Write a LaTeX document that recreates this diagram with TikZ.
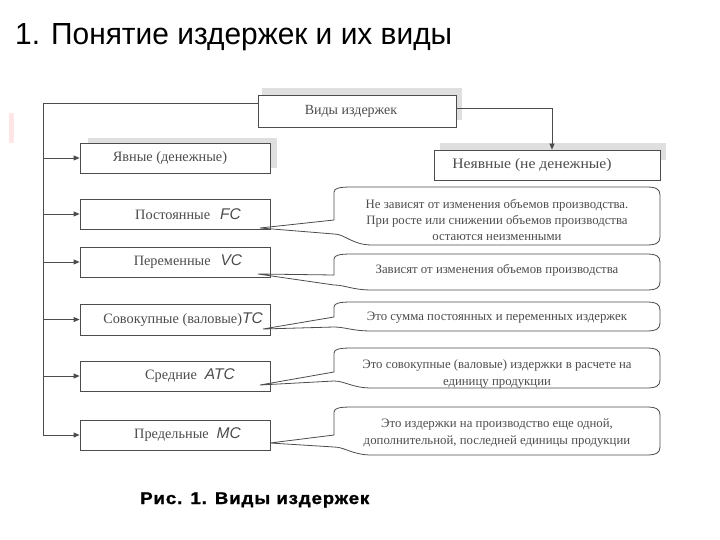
\documentclass[tikz,border=0pt]{standalone}
\usepackage{fontspec}
\setmainfont{Liberation Serif}
\newfontfamily\narrowsans[FakeStretch=0.98]{Liberation Sans}
\newfontfamily\capsans{Liberation Sans}
\newfontfamily\capbold[FakeStretch=1.1,LetterSpace=5,FakeBold=1.2]{Liberation Sans Bold}
\newfontfamily\widerserif[FakeStretch=1.08]{Liberation Serif}
\usetikzlibrary{arrows.meta,calc}
\definecolor{ln}{gray}{0.3}
\definecolor{tx}{gray}{0.3}
\newcommand{\symb}[1]{{\capsans\itshape\fontsize{15.5}{15}\selectfont #1}}
\newcommand{\callout}[5]{%
  \draw[wire] (#3) -- (334,#4) -- (334,#1+5) .. controls (334,#1+1) and (340,#1) .. (352,#1)
    -- (646,#1) .. controls (656,#1) and (660,#1+2) .. (660,#1+8)
    -- (660,#2-8) .. controls (660,#2-2) and (656,#2) .. (646,#2)
    -- (372,#2) .. controls (352,#2) and (345,#5) .. (334,#5) -- cycle;}
\begin{document}
\begin{tikzpicture}[x=1pt,y=-1pt,
  box/.style={draw=ln,line width=0.8pt,minimum height=30pt,minimum width=190pt,inner sep=0pt,text=tx,fill=white,font=\fontsize{14.3}{15}\selectfont},
  arr/.style={draw=ln,line width=0.8pt,-{Triangle[length=6pt,width=5pt]}},
  wire/.style={draw=ln,line width=0.8pt},
  note/.style={text=tx,align=center,font=\fontsize{12.8}{16.3}\selectfont,inner sep=0pt},
  shade/.style={fill=gray!25,draw=none}]
\useasboundingbox (0,0) rectangle (720,540);
% title
\node[anchor=base west,inner sep=0pt,font=\narrowsans\fontsize{30.5}{31}\selectfont] (title) at (15,45) {1. Понятие издержек и их виды};
% scan mark
\fill[red!10] (9,113) rectangle (14,143);
% shadows
\fill[shade] (262,88) rectangle (462,95);
\fill[shade] (456,88) rectangle (462,120);
\fill[shade] (88,138) rectangle (277,145);
\fill[shade] (270,138) rectangle (277,168);
\fill[shade] (440,143) rectangle (666,150);
\fill[shade] (660,143) rectangle (666,160);
% boxes
\node[box,minimum width=198pt,minimum height=32pt,font=\fontsize{14}{15}\selectfont] (top) at (357,111) {Виды издержек\hspace*{12pt}};
\node[box] (yav) at (175,158) {\raisebox{-2pt}{Явные (денежные)}\hspace*{10pt}};
\node[box,minimum width=226pt,font=\widerserif\fontsize{14.5}{15}\selectfont] (neyav) at (547,165) {Неявные (не денежные)\hspace*{30pt}};
\node[box] (fc) at (175,214) {\hspace*{26pt}\raisebox{-2pt}{Постоянные\hspace{10pt}\symb{FC}}};
\node[box] (vc) at (175,262) {\hspace*{26pt}\raisebox{-1pt}{Переменные\hspace{10pt}\symb{VC}}};
\node[box,minimum height=31pt] (tc) at (175,319.5) {\hspace*{16pt}\raisebox{-1pt}{Совокупные (валовые)\symb{TC}}};
\node[box] (atc) at (175,376) {\hspace*{30pt}\raisebox{-1pt}{Средние\hspace{8pt}\symb{ATC}}};
\node[box] (mc) at (175,435) {\hspace*{25pt}\raisebox{-1pt}{Предельные\hspace{8pt}\symb{MC}}};
% connectors
\coordinate (lc) at (43,103);
\coordinate (rc) at (552,108);
\draw[wire] (top.west |- lc) -- (lc) -- (lc |- mc.west);
\foreach \n in {yav,fc,vc,tc,atc,mc} \draw[arr] (lc |- \n.west) -- (\n.west);
\draw[arr] (top.east |- rc) -- (rc) -- (rc |- neyav.north);
% callouts
\coordinate (t1) at (260,228);
\coordinate (t2) at (258,274);
\coordinate (t3) at (263,329);
\coordinate (t4) at (260,385);
\coordinate (t5) at (270,443);
\callout{187}{245}{t1}{220}{234}
\callout{254}{290}{t2}{275}{285}
\callout{302}{331}{t3}{317}{327}
\callout{348}{388}{t4}{372}{381}
\callout{407}{455}{t5}{435}{447}
\node[note] (n1) at (497,220) {Не зависят от изменения объемов производства.\\При росте или снижении объемов производства\\остаются неизменными};
\node[note] (n2) at (497,270) {Зависят от изменения объемов производства};
\node[note] (n3) at (497,318) {Это сумма постоянных и переменных издержек};
\node[note] (n4) at (497,374) {Это совокупные (валовые) издержки в расчете на\\единицу продукции};
\node[note] (n5) at (497,433) {Это издержки на производство еще одной,\\дополнительной, последней единицы продукции};
% caption
\node[anchor=base west,inner sep=0pt,font=\capbold\fontsize{17}{17}\selectfont] (cap) at (140,504) {Рис. 1. Виды издержек};
\end{tikzpicture}
\end{document}
